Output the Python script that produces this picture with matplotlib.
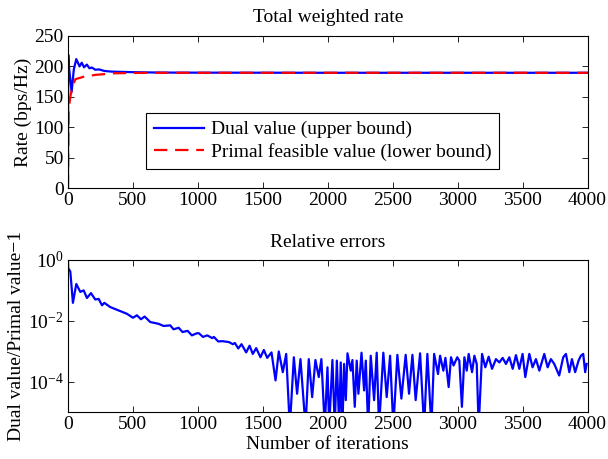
import numpy as np
import matplotlib
matplotlib.use('Agg')
import matplotlib.pyplot as plt

plt.rcParams['font.family'] = ['Liberation Serif', 'DejaVu Serif']
plt.rcParams['mathtext.fontset'] = 'stix'
plt.rcParams['font.size'] = 14

# Total weighted rate
iters_rate = [0, 2, 10, 28, 45, 64, 89, 106, 124, 145, 165, 185, 210, 240, 280,
              330, 400, 500, 650, 800, 1000, 1500, 2000, 3000, 4000]
dual_rate = [0, 219, 194, 158, 195, 212, 200, 206, 198.5, 203, 197, 198, 194.5,
             195, 192.5, 191.5, 191, 190.5, 190, 189.8, 189.7, 189.6, 189.5, 189.5, 189.5]

iters_primal = [0, 5, 18, 31, 57, 82, 121, 210, 350, 478, 700, 1000, 2000, 4000]
primal_rate = [0, 128, 150, 164, 179, 180.5, 183, 186, 188.6, 189.2, 189.5, 189.5,
               189.5, 189.5]

# Relative errors, log10 of (dual/primal - 1)
iters_err = [0, 2, 18, 38, 64, 95, 121, 146, 177, 210, 236, 262, 280, 326, 390, 454,
             500, 531, 562, 590, 633, 698, 736, 787, 813, 852, 882, 921, 954, 993,
             1008, 1039, 1072, 1111, 1123, 1157, 1188, 1239, 1270, 1285, 1311, 1336,
             1372, 1398, 1423, 1449, 1482, 1508, 1534, 1567, 1598, 1623, 1654, 1680,
             1708, 1739, 1764, 1790, 1829, 1854, 1880, 1905, 1931, 1951, 1977, 1998,
             2011, 2036, 2054, 2070, 2088, 2100, 2113, 2126, 2139, 2152, 2177, 2190,
             2208, 2223, 2236, 2260, 2280, 2293, 2311, 2331, 2357, 2377, 2395, 2428,
             2454, 2480, 2505, 2536, 2567, 2600, 2626, 2652, 2677, 2711, 2742, 2767,
             2798, 2819, 2849, 2865, 2890, 2906, 2931, 2949, 2969, 2997, 3013, 3033,
             3052, 3070, 3085, 3111, 3129, 3147, 3162, 3188, 3213, 3239, 3265, 3295,
             3321, 3347, 3372, 3398, 3424, 3449, 3475, 3500, 3521, 3552, 3577, 3603,
             3629, 3667, 3693, 3718, 3744, 3782, 3813, 3834, 3860, 3880, 3905, 3931,
             3949, 3967, 3982, 3993]
log_err = [0.0, -0.27, -0.38, -1.41, -0.79, -1.05, -1.00, -1.25, -1.09, -1.30, -1.28,
           -1.49, -1.41, -1.55, -1.66, -1.77, -1.90, -1.82, -1.95, -1.86, -2.04, -2.10,
           -2.17, -2.15, -2.28, -2.23, -2.37, -2.33, -2.48, -2.41, -2.41, -2.53, -2.48,
           -2.57, -2.53, -2.68, -2.67, -2.70, -2.77, -2.73, -2.91, -2.77, -3.04, -2.82,
           -3.09, -2.90, -3.20, -2.96, -3.22, -3.04, -3.96, -3.01, -3.69, -3.09, -5.5,
           -3.20, -4.40, -3.26, -5.5, -3.26, -4.51, -3.29, -3.85, -3.26, -5.5, -3.53,
           -5.5, -3.29, -5.5, -3.31, -5.5, -3.37, -5.5, -3.42, -4.61, -3.07, -3.64,
           -3.29, -4.83, -3.31, -4.40, -3.05, -4.29, -3.31, -5.5, -3.15, -4.61, -3.05,
           -5.5, -3.05, -4.51, -3.15, -5.5, -3.12, -4.56, -3.12, -4.40, -3.12, -4.61,
           -3.07, -5.5, -3.09, -5.5, -3.09, -3.75, -3.15, -3.64, -3.22, -4.18, -3.20,
           -3.47, -3.20, -3.31, -4.83, -3.20, -3.64, -3.09, -3.69, -3.15, -3.42, -5.5,
           -3.09, -3.53, -3.18, -3.58, -3.26, -3.37, -3.22, -3.42, -3.20, -3.58, -3.13,
           -3.58, -3.09, -3.85, -3.09, -3.53, -3.26, -3.64, -3.09, -3.53, -3.26, -3.42,
           -3.80, -3.20, -3.09, -3.69, -3.26, -3.69, -3.31, -3.15, -3.09, -3.69, -3.42]

rel_err = 10.0 ** np.array(log_err)

fig = plt.figure(figsize=(6.08, 4.59), dpi=100)
ax1 = fig.add_axes([0.1118, 0.5904, 0.8545, 0.3312])
ax2 = fig.add_axes([0.1118, 0.1024, 0.8545, 0.3312])

ax1.plot(iters_rate, dual_rate, color='blue', lw=1.6, label='Dual value (upper bound)')
ax1.plot(iters_primal, primal_rate, color='red', lw=1.6, dashes=(6, 3.5),
         label='Primal feasible value (lower bound)')
ax1.set_xlim(0, 4000)
ax1.set_ylim(0, 250)
ax1.set_xticks(np.arange(0, 4001, 500))
ax1.set_yticks(np.arange(0, 251, 50))
ax1.set_title('Total weighted rate', fontsize=14, pad=10)
ax1.set_ylabel('Rate (bps/Hz)', fontsize=14, labelpad=2)
leg = ax1.legend(loc='lower left', bbox_to_anchor=(0.15, 0.125), borderaxespad=0,
                 fancybox=False, edgecolor='black', framealpha=1, handlelength=2.6,
                 handletextpad=0.35, borderpad=0.4, labelspacing=0.25, fontsize=14)
leg.get_frame().set_linewidth(0.8)

ax2.semilogy(iters_err, rel_err, color='blue', lw=1.6)
ax2.set_xlim(0, 4000)
ax2.set_ylim(1e-5, 1)
ax2.set_xticks(np.arange(0, 4001, 500))
ax2.set_yticks([1e0, 1e-2, 1e-4])
ax2.yaxis.set_minor_locator(matplotlib.ticker.NullLocator())
ax2.set_title('Relative errors', fontsize=14, pad=9)
ax2.set_ylabel('Dual value/Primal value\u22121', fontsize=14, labelpad=2)
ax2.set_xlabel('Number of iterations', fontsize=14, labelpad=2)

for ax in (ax1, ax2):
    ax.tick_params(direction='in', top=True, right=True, length=4, width=0.6,
                   labelsize=14, pad=3)
    for s in ax.spines.values():
        s.set_linewidth(0.8)

fig.savefig('out.png', dpi=100)
